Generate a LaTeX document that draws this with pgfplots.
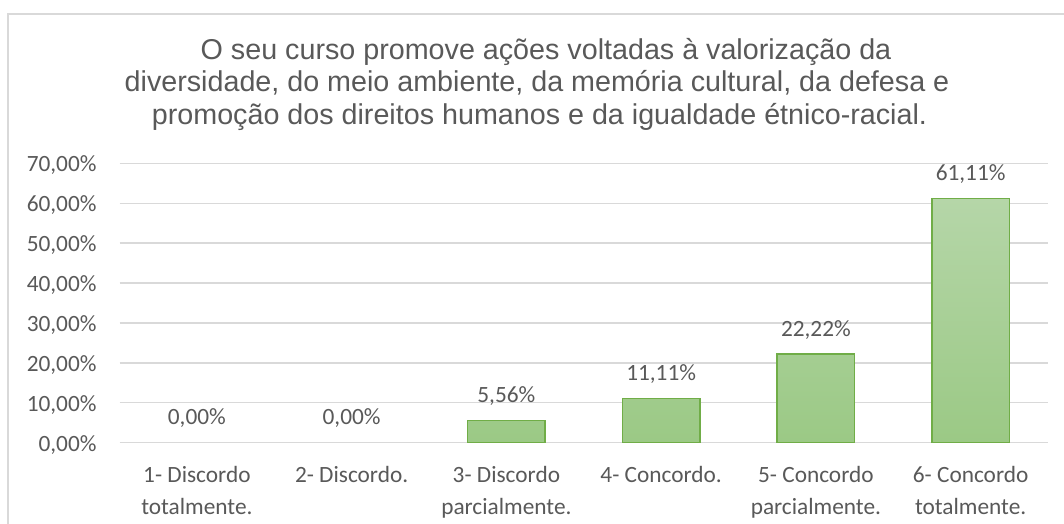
\documentclass[border=0pt]{standalone}
\usepackage{pgfplots}
\pgfplotsset{compat=1.18}
\usepackage{fontspec}
\setmainfont{Carlito}
\newfontfamily\titlefont{Liberation Sans}
\definecolor{txt}{HTML}{595959}
\definecolor{gridc}{HTML}{D9D9D9}
\definecolor{edge}{HTML}{70AD47}
\definecolor{topc}{HTML}{B5D6A8}
\definecolor{botc}{HTML}{9BC985}
\begin{document}
\begin{tikzpicture}[x=1bp,y=1bp]
\useasboundingbox (0,0) rectangle (1064,524);
\fill[white] (0,0) rectangle (1064,524);
\draw[gridc, line width=1.5bp] (8,-5) -- (8,510) -- (1070,510);
\node[font=\titlefont\fontsize{28.8}{32}\selectfont, text=txt, anchor=base] at (546,464.5) {O seu curso promove ações voltadas à valorização da};
\node[font=\titlefont\fontsize{28.8}{32}\selectfont, text=txt, anchor=base] at (537,432) {diversidade, do meio ambiente, da memória cultural, da defesa e};
\node[font=\titlefont\fontsize{28.8}{32}\selectfont, text=txt, anchor=base] at (539.5,399) {promoção dos direitos humanos e da igualdade étnico-racial.};
\begin{axis}[
  at={(119.5bp,81.3bp)}, anchor=south west,
  scale only axis, width=928.5bp, height=279.4bp,
  xmin=-0.5, xmax=5.5, ymin=0, ymax=70,
  axis line style={draw=none},
  major tick length=0pt,
  ymajorgrids, grid style={gridc, line width=1.4bp},
  ytick={0,10,20,30,40,50,60,70},
  yticklabels={{0,00\%},{10,00\%},{20,00\%},{30,00\%},{40,00\%},{50,00\%},{60,00\%},{70,00\%}},
  yticklabel style={anchor=base east, inner sep=0pt, xshift=-22.8bp, yshift=-8.4bp, text=txt, font=\fontsize{23.4}{28}\selectfont},
  xtick={0,1,2,3,4,5},
  xticklabels={{1- Discordo\\totalmente.},{2- Discordo.\\\mbox{}},{3- Discordo\\parcialmente.},{4- Concordo.\\\mbox{}},{5- Concordo\\parcialmente.},{6- Concordo\\totalmente.}},
  xticklabel style={anchor=base, align=center, inner sep=0pt, yshift=-72.3bp, text=txt, font=\fontsize{23.4}{33}\selectfont},
  ybar, bar width=77.6bp, bar shift=0pt,
  nodes near coords={\pgfmathprintnumber[fixed,fixed zerofill,precision=2,use comma,assume math mode=true]{\pgfplotspointmeta}\%},
  every node near coord/.append style={anchor=base, inner sep=0pt, yshift=18bp, text=txt, font=\fontsize{23.4}{28}\selectfont},
  clip=false,
]
\addplot[draw=edge, line width=1.4bp, top color=topc, bottom color=botc] coordinates {(2,5.56) (3,11.11) (4,22.22) (5,61.11)};
\addplot[draw=none, fill=none] coordinates {(0,0) (1,0)};
\end{axis}
\end{tikzpicture}
\end{document}
